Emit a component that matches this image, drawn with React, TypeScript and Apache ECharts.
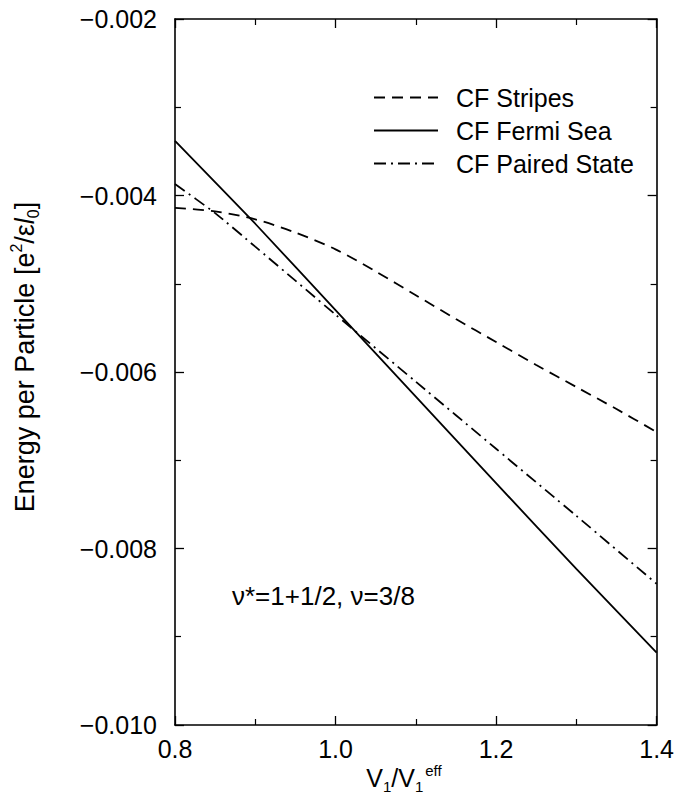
import React, { useEffect, useRef } from "react";
import * as echarts from "echarts";

const FONT = '"Liberation Sans", Arial, Helvetica, sans-serif';

// x values (V1 / V1^eff) and energies per particle (e^2/εl0)
const X_STRIPES = [0.8, 0.85, 0.9, 0.95, 1.0, 1.05, 1.1, 1.15, 1.2, 1.25, 1.3, 1.35, 1.4];
const E_STRIPES = [-0.00414, -0.00418, -0.00427, -0.00442, -0.00461, -0.00486, -0.00513, -0.0054, -0.00566, -0.00592, -0.00617, -0.00642, -0.00668];

const X_FERMI = [0.8, 0.9, 1.0, 1.1, 1.2, 1.3, 1.4];
const E_FERMI = [-0.00338, -0.00432, -0.0053, -0.00628, -0.00726, -0.00823, -0.00918];

const X_PAIRED = [0.8, 0.85, 0.9, 1.0, 1.1, 1.2, 1.3, 1.4];
const E_PAIRED = [-0.00387, -0.0042, -0.00458, -0.00535, -0.00611, -0.00687, -0.00763, -0.0084];

const SERIES_NAMES = ["CF Stripes", "CF Fermi Sea", "CF Paired State"];
const ANNOTATION = "ν*=1+1/2, ν=3/8";

const zip = (xs: number[], ys: number[]) => xs.map((x, i) => [x, ys[i]]);

export default function App() {
  const ref = useRef<HTMLDivElement>(null);
  useEffect(() => {
    if (!ref.current) return;
    const chart = echarts.init(ref.current, undefined, { renderer: "svg" });
    const axisLine = { show: true, lineStyle: { color: "#000", width: 1.6 } };
    const axisTick = { show: true, inside: true, length: 9, lineStyle: { color: "#000", width: 1.3 } };
    const minorTick = { show: true, splitNumber: 2, length: 6, lineStyle: { color: "#000", width: 1.2 } };
    const labelStyle = { color: "#000", fontSize: 25, fontFamily: FONT };
    const xCommon = {
      type: "value",
      min: 0.8,
      max: 1.4,
      interval: 0.2,
      axisLine,
      axisTick,
      minorTick,
      splitLine: { show: false },
      minorSplitLine: { show: false },
    };
    const yCommon = {
      type: "value",
      min: -0.01,
      max: -0.002,
      interval: 0.002,
      axisLine,
      axisTick,
      minorTick,
      splitLine: { show: false },
      minorSplitLine: { show: false },
    };
    const lineW = 1.8;
    chart.setOption({
      animation: false,
      backgroundColor: "#fff",
      color: ["#000", "#000", "#000"],
      grid: { left: 175, right: 19, top: 19, bottom: 78, containLabel: false },
      xAxis: [
        {
          ...xCommon,
          position: "bottom",
          axisLabel: { ...labelStyle, margin: 11, formatter: (v: number) => v.toFixed(1) },
        },
        { ...xCommon, position: "top", axisLabel: { show: false } },
      ],
      yAxis: [
        {
          ...yCommon,
          position: "left",
          axisLabel: {
            ...labelStyle,
            margin: 18,
            formatter: (v: number) => "\u2212" + Math.abs(v).toFixed(3),
          },
        },
        { ...yCommon, position: "right", axisLabel: { show: false } },
      ],
      legend: {
        orient: "vertical",
        left: 368,
        top: 80,
        itemWidth: 64,
        itemHeight: 14,
        itemGap: 8,
        data: SERIES_NAMES,
        itemStyle: { color: "rgba(0,0,0,0)", borderWidth: 0, opacity: 0 },
        textStyle: { color: "#000", fontSize: 25, fontFamily: FONT, padding: [0, 0, 0, 13] },
      },
      series: [
        {
          name: SERIES_NAMES[0],
          type: "line",
          data: zip(X_STRIPES, E_STRIPES),
          symbol: "none",
          smooth: 0.3,
          lineStyle: { color: "#000", width: lineW, type: [11, 7] },
        },
        {
          name: SERIES_NAMES[1],
          type: "line",
          data: zip(X_FERMI, E_FERMI),
          symbol: "none",
          smooth: 0.2,
          lineStyle: { color: "#000", width: lineW, type: "solid" },
        },
        {
          name: SERIES_NAMES[2],
          type: "line",
          data: zip(X_PAIRED, E_PAIRED),
          symbol: "none",
          smooth: 0.2,
          lineStyle: { color: "#000", width: lineW, type: [12, 5, 2, 5] },
        },
      ],
      graphic: [
        {
          type: "text",
          left: 232,
          top: 583,
          style: { text: ANNOTATION, fill: "#000", fontSize: 26, fontFamily: FONT },
        },
        {
          type: "text",
          x: 404,
          y: 778,
          style: {
            text: "V{sub|1}/V{sub|1}{sup|eff}",
            fill: "#000",
            fontSize: 25,
            fontFamily: FONT,
            align: "center",
            verticalAlign: "middle",
            rich: {
              sub: { fontSize: 15, fontFamily: FONT, fill: "#000", padding: [16, 0, 0, 0] },
              sup: { fontSize: 15, fontFamily: FONT, fill: "#000", padding: [0, 0, 16, 2] },
            },
          },
        },
        {
          type: "text",
          x: 25,
          y: 357,
          rotation: Math.PI / 2,
          style: {
            text: "Energy per Particle [e{sup|2}/ε{it|l}{sub|0}]",
            fill: "#000",
            fontSize: 27,
            fontFamily: FONT,
            align: "center",
            verticalAlign: "middle",
            rich: {
              sup: { fontSize: 16, fontFamily: FONT, fill: "#000", padding: [0, 0, 17, 0] },
              sub: { fontSize: 16, fontFamily: FONT, fill: "#000", padding: [17, 0, 0, 0] },
              it: { fontSize: 27, fontFamily: FONT, fill: "#000", fontStyle: "italic" },
            },
          },
        },
      ],
    });
    return () => chart.dispose();
  }, []);
  return (
    <div
      ref={ref}
      style={{ position: "absolute", left: 0, top: 0, width: 677, height: 803 }}
    />
  );
}
